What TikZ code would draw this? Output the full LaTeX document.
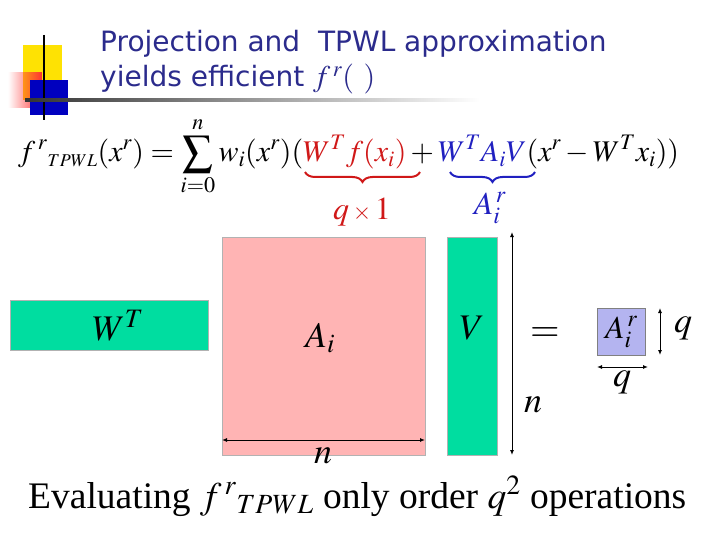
\documentclass[tikz,border=0pt]{standalone}
\usepackage{mathptmx}
\usepackage{fontspec}
\setmainfont{Liberation Serif}
\newfontfamily\titlefont{DejaVu Sans}
\usetikzlibrary{arrows.meta,decorations.pathreplacing,fadings}
\definecolor{navy}{HTML}{2B2B8C}
\definecolor{grn}{HTML}{00DDA0}
\definecolor{pnk}{HTML}{FFB4B4}
\definecolor{lav}{HTML}{B4B4F0}
\definecolor{rd}{HTML}{D01818}
\definecolor{bl}{HTML}{2020C0}
\tikzset{
 box/.style={draw=gray!60,line width=0.6pt},
 dim/.style={{Latex[length=5pt,width=4pt]}-{Latex[length=5pt,width=4pt]},line width=1pt},
 lbl/.style={inner sep=0pt,font=\fontsize{36}{36}\selectfont},
 brc/.style={line width=2pt,decorate,decoration={brace,mirror,amplitude=10pt}},
}
\begin{document}
\begin{tikzpicture}[x=1pt,y=-1pt]
\useasboundingbox (0,0) rectangle (720,540);
% logo
\fill[yellow!85!orange] (23,45) rectangle (62,100);
\fill[red!80,path fading=west] (8,72) rectangle (42,108);
\fill[blue!75!black] (30,80) rectangle (68,115);
\draw[line width=1.2pt] (44,35) -- (44,120);
\shade[left color=black!80,right color=white] (25,99) rectangle (480,102);
\node[anchor=base west,inner sep=0pt,text=navy,font=\titlefont\fontsize{28}{28}\selectfont] (t1) at (100,52) {Projection and\ \ TPWL approximation};
\node[anchor=base west,inner sep=0pt,text=navy,font=\titlefont\fontsize{28}{28}\selectfont] (t2) at (100,87) {yields efficient \fontsize{30}{30}\selectfont$f^{\,r}(\ )$};
% equation
\node[anchor=base west,inner sep=0pt,font=\fontsize{30}{30}\selectfont] (eq) at (18,162)
 {$\displaystyle f^{\,r}{}_{\scriptscriptstyle TPWL}(x^r)=\sum_{i=0}^{n} w_i(x^r)(\textcolor{rd}{W^{T}f(x_i)}+\textcolor{bl}{W^{T}A_iV}(x^r-W^{T}x_i))$};
\draw[rd,brc] (305,172) -- (420,172) coordinate[midway] (rb);
\draw[bl,brc] (450,172) -- (535,172) coordinate[midway] (bb);
\node[inner sep=0pt,text=rd,font=\fontsize{32}{32}\selectfont] (qx1) at (362,212) {$q\,{\scriptstyle\times}\,1$};
\node[inner sep=0pt,text=bl,font=\fontsize{32}{32}\selectfont] (air) at (490,208) {$A_i^{\,r}$};
% boxes
\node[box,fill=grn,minimum width=198,minimum height=50,anchor=north west] (wt) at (10,300) {};
\node[lbl] at (118,326) {$W^{T}$};
\node[box,fill=pnk,minimum width=203,minimum height=218,anchor=north west] (ai) at (222,237) {};
\node[lbl] at (320,338) {$A_i$};
\node[box,fill=grn,minimum width=50,minimum height=218,anchor=north west] (v) at (447,237) {};
\node[lbl] at (472,328) {$V$};
\coordinate (vt) at (512,232); \coordinate (vb) at (512,455);
\draw[dim] (vt) -- (vb);
\node[lbl,font=\fontsize{38}{38}\selectfont] (eqs) at (545,335) {$=$};
\node[lbl] (n1) at (533,405) {$n$};
\node[box,draw=gray,fill=lav,minimum width=48,minimum height=47,anchor=north west] (ar) at (597,308) {};
\node[lbl,font=\fontsize{32}{32}\selectfont] at (ar) {$A_i^{\,r}$};
\coordinate (q1) at (660,308); \coordinate (q2) at (660,355);
\draw[dim] (q1) -- (q2);
\node[lbl] (ql) at (683,328) {$q$};
\coordinate (h1) at (597,367); \coordinate (h2) at (648,367);
\draw[dim] (h1) -- (h2);
\node[lbl] (qb) at (622,382) {$q$};
\coordinate (n2a) at (222,440); \coordinate (n2b) at (425,440);
\draw[dim] (n2a) -- (n2b);
\node[lbl] (n2) at (323,456) {$n$};
% bottom
\node[anchor=base west,inner sep=0pt,font=\fontsize{37.5}{37.5}\selectfont] (bot) at (28,508)
 {Evaluating $f^{\,r}{}_{\scriptstyle TPWL}$ only order $q^{2}$ operations};
\end{tikzpicture}
\end{document}
